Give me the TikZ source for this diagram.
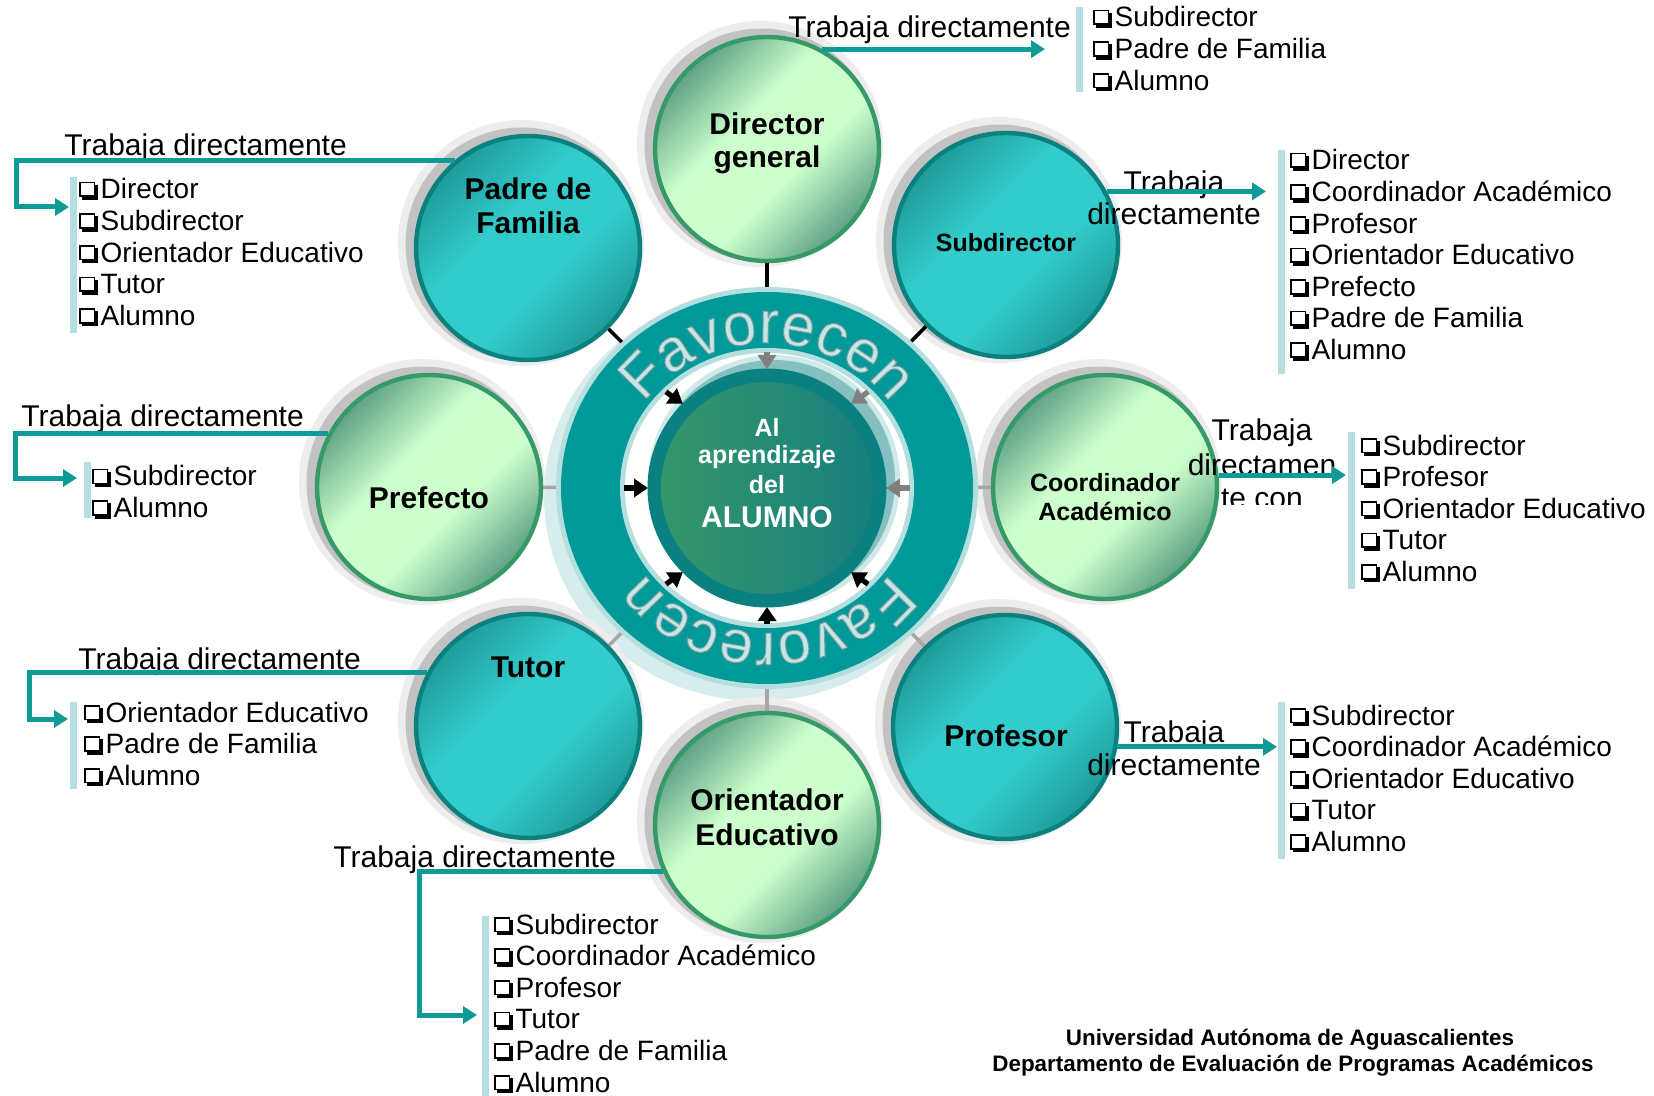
\documentclass[tikz,border=0pt]{standalone}
\usepackage{fontspec}
\setmainfont{Liberation Sans}
\newfontfamily\favfont[FakeBold=1.6]{Liberation Sans}
\usetikzlibrary{arrows.meta,decorations.text}
\pgfdeclarelayer{shad}
\pgfdeclarelayer{lines}
\pgfsetlayers{shad,lines,main}

\definecolor{tealD}{HTML}{1E9C9A}
\definecolor{tealL}{HTML}{33CCCC}
\definecolor{tealB}{HTML}{0A807F}
\definecolor{greenD}{HTML}{5FA285}
\definecolor{greenL}{HTML}{CCFFCC}
\definecolor{greenB}{HTML}{359A68}
\definecolor{ringC}{HTML}{009999}
\definecolor{ringL}{HTML}{B5DFDF}
\definecolor{ringS}{HTML}{D7EDED}
\definecolor{connC}{HTML}{0E9B98}
\definecolor{barC}{HTML}{B4DEDF}
\definecolor{favC}{HTML}{C4E6E6}
\definecolor{innD}{HTML}{0B8080}
\definecolor{innG}{HTML}{35966A}
\definecolor{innT}{HTML}{177F7E}
\definecolor{shL}{HTML}{CFE8E8}
\definecolor{shD}{HTML}{86BFBF}

\pgfdeclarehorizontalshading{tealsh}{100bp}{color(0bp)=(tealD); color(25bp)=(tealD); color(42bp)=(tealL); color(58bp)=(tealL); color(75bp)=(tealD); color(100bp)=(tealD)}
\pgfdeclarehorizontalshading{greensh}{100bp}{color(0bp)=(greenD); color(25bp)=(greenD); color(42bp)=(greenL); color(58bp)=(greenL); color(75bp)=(greenD); color(100bp)=(greenD)}

% shadowed square bullet built from rules
\newcommand{\bx}{%
  \rlap{\kern1.5pt\rule[-0.5pt]{8pt}{7.6pt}}%
  \rlap{\rule[0.9pt]{8pt}{7.7pt}}%
  \rlap{\kern0.85pt\textcolor{white}{\rule[1.75pt]{6.3pt}{6pt}}}%
  \kern10.6pt}
\newcommand{\blist}[4]{%
  \foreach \t [count=\i from 0] in {#4}
    \node[item] (#1\i) at (#2,{-(#3)-31.6*\i}) {\bx\t};}
\newcommand{\favfmt}{\favfont\fontsize{30}{30}\selectfont\color{favC}\special{pdf:literal direct 0.50 0.60 0.60 RG}}

\begin{document}
\begin{tikzpicture}[x=0.5pt,y=0.5pt,
  tealball/.style={circle,draw=tealB,line width=2.2pt,shading=tealsh,shading angle=-45,minimum size=112pt,inner sep=0pt},
  greenball/.style={circle,draw=greenB,line width=2.2pt,shading=greensh,shading angle=-45,minimum size=112pt,inner sep=0pt},
  lbl/.style={font=\bfseries\fontsize{15}{17}\selectfont,anchor=base,inner sep=0pt},
  slbl/.style={font=\bfseries\fontsize{12.5}{14}\selectfont,anchor=base,inner sep=0pt},
  clbl/.style={font=\bfseries\fontsize{12.5}{14}\selectfont,anchor=base,inner sep=0pt,text=white},
  trab/.style={font=\fontsize{15}{17}\selectfont,inner sep=0pt},
  item/.style={font=\fontsize{14}{16}\selectfont,anchor=base west,inner sep=0pt},
  conn/.style={draw=connC,line width=2.5pt,-{Triangle[length=7pt,width=8.5pt]}},
  bar/.style={draw=barC,line width=3.5pt},
  link/.style={line width=1.8pt},
  inarrow/.style={line width=2.6pt,-{Triangle[length=7pt,width=9pt]}},
  foot/.style={font=\bfseries\fontsize{11.2}{13}\selectfont,anchor=base,inner sep=0pt}
]
\useasboundingbox (0,0) rectangle (1654,-1096);
\begin{pgfonlayer}{shad}
\fill[white] (0,0) rectangle (1654,-1096);
\end{pgfonlayer}

% ---------- central ring ----------
\coordinate (ring) at (767,-488);
\fill[ringL] (ring) ellipse[x radius=211, y radius=201];
\fill[ringC] (ring) ellipse[x radius=206, y radius=196];
\fill[ringL] (ring) ellipse[x radius=147, y radius=140];
\fill[white] (ring) ellipse[x radius=142, y radius=135];
\fill[shL] ([shift={(7,7)}]ring) circle[radius=126];
\fill[shD] ([shift={(7,7)}]ring) circle[radius=121];
\foreach \a/\c in {0/gray,45/gray,90/gray,135/black,180/black,225/black,270/black,315/black}
  \draw[inarrow,draw=\c,fill=\c] ([shift={(\a:143 and 136)}]ring) -- ([shift={(\a:119)}]ring);
\fill[innD] (ring) circle[radius=119.5];
\shade[left color=innG, right color=innT] (ring) circle[radius=106];

\path[decorate,decoration={text along path,text align=center,
  text={|\favfmt|Favorecen}}]
  ([shift={(172:152 and 145)}]ring) arc[start angle=172,end angle=8,x radius=152,y radius=145];
\path[decorate,decoration={text along path,text align=center,
  text={|\favfmt|Favorecen}}]
  ([shift={(-8:152 and 145)}]ring) arc[start angle=-8,end angle=-172,x radius=152,y radius=145];

\node[clbl] (c1) at (767,-436.7) {Al};
\node[clbl] (c2) at (767,-464) {aprendizaje};
\node[clbl] (c3) at (767,-493.3) {del};
\node[lbl,text=white] (c4) at (767,-527.3) {ALUMNO};

% ---------- outer circles ----------
\node[greenball] (dir) at (767,-149) {};
\node[tealball] (padre) at (528,-248) {};
\node[tealball] (sub) at (1006,-245) {};
\node[greenball] (pref) at (429,-487) {};
\node[greenball] (coord) at (1105,-487) {};
\node[tealball] (tutor) at (528,-726) {};
\node[tealball] (prof) at (1005,-727) {};
\node[greenball] (orient) at (767,-825) {};

\begin{pgfonlayer}{shad}
\fill[ringS] ([shift={(-9,-9)}]ring) ellipse[x radius=214, y radius=204];
\foreach \n in {dir,padre,sub,pref,coord,tutor,prof,orient}{
  \fill[gray!14] ([shift={(-7,5)}]\n.center) circle[radius=123];
  \fill[gray!48] ([shift={(-6,4)}]\n.center) circle[radius=116.5];
}
\end{pgfonlayer}
\begin{pgfonlayer}{lines}
\draw[link] (dir) -- (ring);
\draw[link] (padre) -- (ring);
\draw[link] (sub) -- (ring);
\draw[link,gray!70] (pref) -- (ring);
\draw[link,gray!70] (coord) -- (ring);
\draw[link,gray!70] (tutor) -- (ring);
\draw[link,gray!70] (prof) -- (ring);
\draw[link,gray!70] (orient) -- (ring);
\end{pgfonlayer}

\node[lbl] (dirl1) at (767,-134.5) {Director};
\node[lbl] (dirl2) at (767,-167.5) {general};
\node[lbl] (padl1) at (528,-200) {Padre de};
\node[lbl] (padl2) at (528,-234) {Familia};
\node[slbl] (subl) at (1006,-252) {Subdirector};
\node[lbl] (prefl) at (429,-508.5) {Prefecto};
\node[slbl] (coordl1) at (1105,-491.7) {Coordinador};
\node[slbl] (coordl2) at (1105,-520) {Académico};
\node[lbl] (tutl) at (528,-677) {Tutor};
\node[lbl] (profl) at (1006,-746.7) {Profesor};
\node[lbl] (orl1) at (767,-810.7) {Orientador};
\node[lbl] (orl2) at (767,-845.3) {Educativo};

% ---------- "Trabaja directamente" labels ----------
\node[trab,anchor=base west] (tdir) at (788,-37.5) {Trabaja directamente};
\node[trab,anchor=base west] (tpad) at (64,-155.7) {Trabaja directamente};
\node[trab,anchor=base west] (tpref) at (21,-427) {Trabaja directamente};
\node[trab,anchor=base west] (ttut) at (78,-669) {Trabaja directamente};
\node[trab,anchor=base west] (tor) at (333,-867.7) {Trabaja directamente};
\node[trab,anchor=base] (tsub1) at (1174,-193) {Trabaja};
\node[trab,anchor=base] (tsub2) at (1174,-224.5) {directamente};
\node[trab,anchor=base] (tprof1) at (1174,-742) {Trabaja};
\node[trab,anchor=base] (tprof2) at (1174,-775.5) {directamente};
\begin{scope}
\clip (1150,-395) rectangle (1380,-504);
\node[trab,anchor=base] (tco1) at (1262,-441) {Trabaja};
\node[trab,anchor=base] (tco2) at (1262,-475) {directamen};
\node[trab,anchor=base] (tco3) at (1262,-508) {te con};
\end{scope}

% ---------- connectors ----------
\coordinate (dirtip) at (1045,-49);
\coordinate (padcorner) at (16,-207);
\coordinate (padtip) at (69,-207);
\coordinate (subtip) at (1266,-191);
\coordinate (prefcorner) at (15,-478);
\coordinate (preftip) at (77,-478);
\coordinate (coordtip) at (1346,-476);
\coordinate (tutcorner) at (29,-719);
\coordinate (tuttip) at (68,-719);
\coordinate (proftip) at (1277,-745);
\coordinate (orcorner) at (419,-1015);
\coordinate (ortip) at (477,-1015);

\draw[conn] (dir.61) -- (dir.61 -| dirtip);
\draw[conn] (padre.130) -| (padcorner) -- (padtip);
\draw[conn] (sub.28) -- (sub.28 -| subtip);
\draw[conn] (pref.152) -| (prefcorner) -- (preftip);
\draw[conn] (coord.6) -- (coord.6 -| coordtip);
\draw[conn] (tutor.152) -| (tutcorner) -- (tuttip);
\draw[conn] (prof.-10) -- (prof.-10 -| proftip);
\draw[conn] (orient.204) -| (orcorner) -- (ortip);

% ---------- bars ----------
\draw[bar] (1079.5,-7) -- (1079.5,-92);
\draw[bar] (73,-177) -- (73,-333);
\draw[bar] (1281,-150) -- (1281,-374);
\draw[bar] (87.5,-462) -- (87.5,-518);
\draw[bar] (1351.5,-432) -- (1351.5,-589);
\draw[bar] (73,-702) -- (73,-789);
\draw[bar] (1281,-702) -- (1281,-859);
\draw[bar] (485,-916) -- (485,-1096);

% ---------- lists ----------
\blist{dl}{1093}{27}{Subdirector,Padre de Familia,Alumno}
\blist{pl}{79}{199}{Director,Subdirector,Orientador Educativo,Tutor,Alumno}
\blist{sl}{1290}{170}{Director,Coordinador Académico,Profesor,Orientador Educativo,Prefecto,Padre de Familia,Alumno}
\blist{prl}{92}{486}{Subdirector,Alumno}
\blist{cl}{1361}{455}{Subdirector,Profesor,Orientador Educativo,Tutor,Alumno}
\blist{tl}{84}{722}{Orientador Educativo,Padre de Familia,Alumno}
\blist{pfl}{1290}{725}{Subdirector,Coordinador Académico,Orientador Educativo,Tutor,Alumno}
\blist{ol}{494}{934}{Subdirector,Coordinador Académico,Profesor,Tutor,Padre de Familia,Alumno}

% ---------- footer ----------
\node[foot] (f1) at (1290,-1045) {Universidad Autónoma de Aguascalientes};
\node[foot] (f2) at (1293,-1071.7) {Departamento de Evaluación de Programas Académicos};
\end{tikzpicture}
\end{document}
